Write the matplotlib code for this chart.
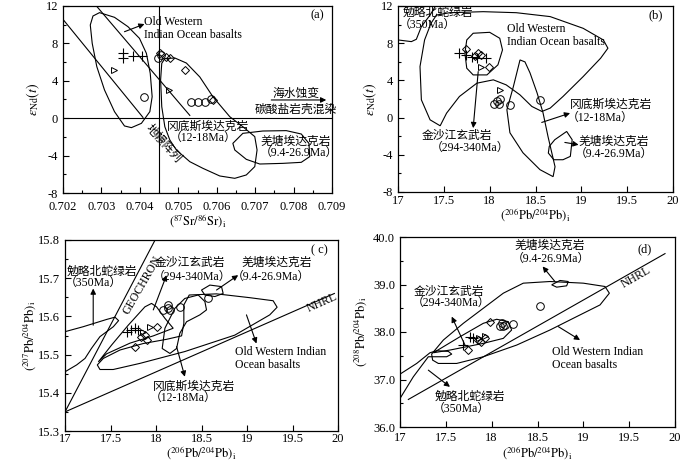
import numpy as np
import matplotlib
matplotlib.use("Agg")
import matplotlib.pyplot as plt
from matplotlib.ticker import MultipleLocator, FormatStrFormatter, FuncFormatter

plt.rcParams["font.family"] = ["Liberation Serif", "Noto Sans CJK SC"]
plt.rcParams["mathtext.fontset"] = "stix"
plt.rcParams["font.size"] = 9

# ---------------- panel (a): eNd(t) vs (87Sr/86Sr)i ----------------
a_owiob_x = [0.70295, 0.70278, 0.70271, 0.70276, 0.70288, 0.70308, 0.70334, 0.70360, 0.70378,
             0.70404, 0.70426, 0.70432, 0.70427, 0.70417, 0.70399, 0.70369, 0.70334]
a_owiob_y = [11.29, 10.93, 9.97, 8.01, 5.51, 3.02, 0.70, -0.83, -1.01,
             -0.55, 0.70, 2.30, 4.80, 6.94, 8.54, 9.79, 10.79]
a_gds_x = [0.70465, 0.70457, 0.70454, 0.70457, 0.70465, 0.70478, 0.70495, 0.70530, 0.70564, 0.70608,
           0.70647, 0.70677, 0.70699, 0.70705, 0.70699, 0.70668, 0.70634, 0.70590, 0.70556, 0.70521, 0.70491]
a_gds_y = [6.37, 5.87, 4.09, 1.23, -0.91, -2.33, -3.40, -4.65, -5.36, -6.18,
           -6.43, -6.07, -5.18, -3.40, -1.97, -0.91, 0.16, 2.30, 4.41, 5.90, 6.44]
a_qt_x = [0.70642, 0.70668, 0.70720, 0.70781, 0.70820, 0.70840, 0.70842, 0.70820, 0.70772, 0.70712, 0.70677, 0.70647]
a_qt_y = [-2.69, -1.62, -1.37, -1.33, -1.69, -2.69, -4.11, -4.72, -4.83, -4.90, -4.40, -3.40]
a_mantle1_x = [0.702, 0.70408]
a_mantle1_y = [10.57, 0.09]
a_mantle2_x = [0.70287, 0.7053]
a_mantle2_y = [12.0, 0.3]

a_cross_x = [0.70357, 0.70357, 0.70383, 0.70405]
a_cross_y = [6.95, 6.40, 6.60, 6.60]
a_diam_x = [0.70452, 0.70469, 0.70478, 0.70517, 0.70590]
a_diam_y = [6.94, 6.58, 6.40, 5.16, 1.95]
a_circ_x = [0.70447, 0.70456, 0.70412, 0.70534, 0.70551, 0.70569, 0.70586]
a_circ_y = [6.44, 6.76, 2.30, 1.77, 1.70, 1.77, 2.05]
a_tri_x = [0.70334, 0.70475]
a_tri_y = [5.16, 3.00]

# ---------------- panel (b): eNd(t) vs (206Pb/204Pb)i ----------------
b_ml_x = [17.0, 17.146, 17.2, 17.255, 17.35, 17.41]
b_ml_y = [8.35, 8.17, 8.42, 9.78, 11.03, 12.0]
b_owiob_x = [17.42, 17.565, 17.93, 18.29, 18.66, 19.02, 19.24, 19.29, 19.21, 19.02, 18.80, 18.66, 18.57,
             18.46, 18.33, 18.18, 18.04, 17.86, 17.67, 17.53, 17.46, 17.35, 17.255, 17.24, 17.29, 17.36]
b_owiob_y = [11.03, 11.28, 11.39, 11.28, 10.86, 9.60, 8.35, 7.46, 6.38, 4.41, 2.27, 1.02, 0.66,
             1.20, 2.45, 3.52, 4.06, 3.70, 2.27, 0.48, -0.88, -0.24, 1.91, 5.49, 8.35, 10.14]
b_jsj_x = [17.82, 18.0, 18.11, 18.14, 18.09, 17.97, 17.82, 17.75, 17.73, 17.75]
b_jsj_y = [9.07, 9.17, 8.53, 7.28, 5.67, 4.59, 4.59, 5.31, 6.92, 8.35]
b_gds_x = [18.331, 18.258, 18.188, 18.221, 18.363, 18.549, 18.692, 18.713, 18.637, 18.582, 18.517, 18.44, 18.385]
b_gds_y = [6.20, 3.31, 0.84, -1.63, -3.78, -5.60, -6.35, -5.28, -2.06, 0.52, 2.66, 4.81, 5.99]
b_qt_x = [18.65, 18.71, 18.84, 18.90, 18.88, 18.80, 18.70, 18.64]
b_qt_y = [-3.10, -2.38, -1.49, -2.38, -4.17, -4.53, -4.53, -3.81]

b_cross_x = [17.67, 17.74, 17.81, 17.86, 17.96]
b_cross_y = [6.90, 6.75, 6.55, 6.45, 6.40]
b_diam_x = [17.74, 17.87, 17.84, 17.90, 17.99]
b_diam_y = [7.35, 7.00, 6.60, 6.75, 5.45]
b_circ_x = [18.05, 18.08, 18.11, 18.10, 18.22, 18.55]
b_circ_y = [1.50, 1.75, 2.00, 1.45, 1.40, 1.90]
b_tri_x = [17.90, 18.11]
b_tri_y = [5.45, 3.00]

# ---------------- panel (c): (207Pb/204Pb)i vs (206Pb/204Pb)i ----------------
c_geochron_x = [17.0, 17.99]
c_geochron_y = [15.35, 15.80]
c_nhrl_x = [17.0, 19.96]
c_nhrl_y = [15.35, 15.66]
c_ml_x = [17.0, 17.2, 17.457, 17.549, 17.589, 17.531, 17.384, 17.29, 17.22, 17.128, 17.0]
c_ml_y = [15.56, 15.573, 15.592, 15.598, 15.589, 15.573, 15.547, 15.516, 15.49, 15.473, 15.455]
c_jsj_x = [17.366, 17.512, 17.695, 17.878, 17.951, 18.006, 18.098, 18.189, 17.97, 17.714, 17.457]
c_jsj_y = [15.481, 15.525, 15.577, 15.625, 15.634, 15.625, 15.595, 15.569, 15.549, 15.53, 15.502]
c_gds_x = [18.207, 18.317, 18.464, 18.537, 18.555, 18.482, 18.336, 18.262, 18.226, 18.153, 18.068, 18.098]
c_gds_y = [15.621, 15.647, 15.656, 15.639, 15.617, 15.604, 15.586, 15.556, 15.516, 15.503, 15.516, 15.569]
c_owiob_x = [17.355, 17.421, 17.604, 17.86, 18.116, 18.281, 18.306, 18.306, 18.365, 18.665, 19.031,
             19.287, 19.331, 19.25, 18.866, 18.317, 17.823, 17.53, 17.384]
c_owiob_y = [15.473, 15.49, 15.512, 15.529, 15.54, 15.549, 15.582, 15.63, 15.656, 15.659, 15.649,
             15.641, 15.624, 15.604, 15.551, 15.508, 15.477, 15.461, 15.461]
c_qt_x = [18.50, 18.592, 18.72, 18.738, 18.647, 18.537]
c_qt_y = [15.669, 15.682, 15.678, 15.66, 15.652, 15.656]

c_cross_x = [17.677, 17.73, 17.768, 17.80]
c_cross_y = [15.560, 15.564, 15.569, 15.564]
c_diam_x = [17.768, 18.006, 17.896, 17.878, 17.84]
c_diam_y = [15.521, 15.573, 15.538, 15.551, 15.547]
c_circ_x = [18.134, 18.134, 18.152, 18.08, 18.262, 18.573]
c_circ_y = [15.621, 15.630, 15.617, 15.617, 15.625, 15.647]
c_tri_x = [17.933, 17.86]
c_tri_y = [15.573, 15.560]

# ---------------- panel (d): (208Pb/204Pb)i vs (206Pb/204Pb)i ----------------
d_nhrl_x = [17.091, 19.891]
d_nhrl_y = [36.58, 39.65]
d_ml_x = [17.0, 17.182, 17.327, 17.40, 17.527, 17.564, 17.509, 17.382, 17.309, 17.145, 17.0]
d_ml_y = [37.113, 37.338, 37.563, 37.606, 37.592, 37.535, 37.479, 37.479, 37.479, 37.056, 36.60]
d_owiob_x = [17.345, 17.473, 17.691, 17.909, 18.127, 18.345, 18.636, 19.0, 19.236, 19.284, 19.182,
             18.927, 18.636, 18.273, 17.909, 17.618, 17.418, 17.356]
d_owiob_y = [37.535, 37.831, 38.183, 38.50, 38.817, 39.028, 39.063, 39.028, 38.958, 38.817, 38.57,
             38.324, 38.042, 37.725, 37.479, 37.338, 37.338, 37.408]
d_jsj_x = [17.364, 17.655, 17.909, 18.055, 18.182, 18.218, 18.127, 17.909, 17.545]
d_jsj_y = [37.563, 37.901, 38.183, 38.268, 38.218, 38.042, 37.866, 37.761, 37.62]
d_qt_x = [18.655, 18.745, 18.836, 18.818, 18.709]
d_qt_y = [38.993, 39.085, 39.063, 38.972, 38.944]

d_cross_x = [17.764, 17.69, 17.80]
d_cross_y = [37.90, 37.73, 37.88]
d_diam_x = [17.98, 17.745, 17.855, 17.93, 17.88]
d_diam_y = [38.22, 37.62, 37.83, 37.88, 37.78]
d_circ_x = [18.11, 18.127, 18.14, 18.09, 18.236, 18.527]
d_circ_y = [38.18, 38.13, 38.15, 38.12, 38.16, 38.54]
d_tri_x = [17.86, 17.93]
d_tri_y = [37.87, 37.91]

W, H = 700, 462
LW = 0.8
CN = ["Liberation Serif", "Noto Sans CJK SC"]
FS = 8.5


def box(left, right, top, bottom):
    return [left / W, 1 - bottom / H, (right - left) / W, (bottom - top) / H]


def field(ax, xs, ys, closed=True):
    if closed:
        ax.fill(xs, ys, fill=False, ec="k", lw=LW)
    else:
        ax.plot(xs, ys, color="k", lw=LW)


def arrow(ax, tail, head):
    ax.annotate("", xy=head, xytext=tail,
                arrowprops=dict(arrowstyle="-|>", color="k", lw=0.8,
                                mutation_scale=8, shrinkA=0, shrinkB=0))


def cn(ax, x, y, s, **kw):
    kw.setdefault("ha", "center")
    ax.text(x, y, s, family=CN, fontsize=FS, va="center", fontweight="light", **kw)


def samples(ax, cx, cy, dx, dy, ox, oy, tx, ty):
    ax.plot(tx, ty, ">", ms=5, mfc="none", mec="k", mew=0.7, ls="none", zorder=4)
    ax.plot(dx, dy, "D", ms=4, mfc="none", mec="k", mew=0.7, ls="none", zorder=4)
    ax.plot(ox, oy, "o", ms=5.5, mfc="none", mec="k", mew=0.7, ls="none", zorder=4)
    ax.plot(cx, cy, "+", ms=7, mec="k", mew=0.8, ls="none", zorder=4)


def style(ax, xlim, ylim, xmaj, ymaj, yminor, xfmt, yfmt, xpad, xminor=None):
    ax.set_xlim(*xlim)
    ax.set_ylim(*ylim)
    ax.xaxis.set_major_locator(MultipleLocator(xmaj))
    ax.yaxis.set_major_locator(MultipleLocator(ymaj))
    ax.yaxis.set_minor_locator(MultipleLocator(yminor))
    if xminor:
        ax.xaxis.set_minor_locator(MultipleLocator(xminor))
    ax.xaxis.set_major_formatter(xfmt)
    ax.yaxis.set_major_formatter(yfmt)
    ax.tick_params(which="both", direction="in", top=False, right=False, labelsize=9, width=0.8)
    ax.tick_params(which="major", length=4)
    ax.tick_params(axis="x", which="major", pad=xpad)
    ax.tick_params(which="minor", length=2)
    for s in ax.spines.values():
        s.set_linewidth(0.9)


def labels(ax, xl, yl, xpos, ypos, ysize=9):
    ax.set_xlabel(xl, fontsize=9, va="center")
    ax.set_ylabel(yl, fontsize=ysize, va="center")
    ax.xaxis.set_label_coords(0.5, xpos)
    ax.yaxis.set_label_coords(ypos, 0.5)


gfmt = FuncFormatter(lambda v, p: "%g" % round(v, 3))
PB6 = r"$(^{206}\mathrm{Pb}/^{204}\mathrm{Pb})_\mathrm{i}$"
END = r"$\varepsilon_\mathrm{Nd}(t)$"

fig = plt.figure(figsize=(7, 4.62), dpi=100)

# ---- (a)
ax = fig.add_axes(box(63, 332, 6, 193))
style(ax, (0.702, 0.709), (-8, 12), 0.001, 4, 2, FormatStrFormatter("%.3f"), gfmt, 6, xminor=0.0005)
ax.axvline(0.7045, color="k", lw=LW)
ax.axhline(0, color="k", lw=LW)
field(ax, a_owiob_x, a_owiob_y)
field(ax, a_gds_x, a_gds_y)
field(ax, a_qt_x, a_qt_y)
field(ax, a_mantle1_x, a_mantle1_y, closed=False)
field(ax, a_mantle2_x, a_mantle2_y, closed=False)
samples(ax, a_cross_x, a_cross_y, a_diam_x, a_diam_y, a_circ_x, a_circ_y, a_tri_x, a_tri_y)
ax.text(0.70412, 10.3, "Old Western", fontsize=FS, va="center")
ax.text(0.70412, 8.9, "Indian Ocean basalts", fontsize=FS, va="center")
arrow(ax, (0.70360, 9.25), (0.70412, 10.07))
cn(ax, 0.70806, 2.6, "海水蚀变")
arrow(ax, (0.70742, 1.95), (0.70885, 1.95))
cn(ax, 0.70807, 0.85, "碳酸盐岩壳混染")
cn(ax, 0.70577, -0.9, "冈底斯埃达克岩")
cn(ax, 0.70564, -2.05, "（12-18Ma）")
cn(ax, 0.70805, -2.5, "羌塘埃达克岩")
cn(ax, 0.70814, -3.75, "（9.4-26.9Ma）")
cn(ax, 0.70460, -2.7, "地幔阵列", rotation=-48)
ax.text(0.70863, 11.0, "(a)", fontsize=9, ha="center", va="center")
labels(ax, r"$(^{87}\mathrm{Sr}/^{86}\mathrm{Sr})_\mathrm{i}$", END, -0.15, -0.112, ysize=10)

# ---- (b)
ax = fig.add_axes(box(398, 673, 6, 192))
style(ax, (17, 20), (-8, 12), 0.5, 4, 2, gfmt, gfmt, 2.5)
field(ax, b_ml_x, b_ml_y, closed=False)
field(ax, b_owiob_x, b_owiob_y)
field(ax, b_jsj_x, b_jsj_y)
field(ax, b_gds_x, b_gds_y)
field(ax, b_qt_x, b_qt_y)
samples(ax, b_cross_x, b_cross_y, b_diam_x, b_diam_y, b_circ_x, b_circ_y, b_tri_x, b_tri_y)
cn(ax, 17.05, 11.3, "勉略北蛇绿岩", ha="left")
cn(ax, 17.317, 9.96, "（350Ma）")
ax.text(18.185, 9.5, "Old Western", fontsize=FS, va="center")
ax.text(18.185, 8.17, "Indian Ocean basalts", fontsize=FS, va="center")
arrow(ax, (17.875, 4.95), (17.82, -1.13))
cn(ax, 17.645, -2.0, "金沙江玄武岩")
cn(ax, 17.784, -3.28, "（294-340Ma）")
arrow(ax, (18.568, -0.52), (18.877, 0.48))
cn(ax, 18.877, 1.37, "冈底斯埃达克岩", ha="left")
cn(ax, 18.84, -0.06, "（12-18Ma）", ha="left")
arrow(ax, (18.82, -2.67), (18.97, -2.92))
cn(ax, 18.97, -2.56, "羌塘埃达克岩", ha="left")
cn(ax, 18.93, -3.89, "（9.4-26.9Ma）", ha="left")
ax.text(19.81, 11.0, "(b)", fontsize=9, ha="center", va="center")
labels(ax, PB6, END, -0.127, -0.102, ysize=10)

# ---- (c)
ax = fig.add_axes(box(65, 338, 240, 431))
style(ax, (17, 20), (15.3, 15.8), 0.5, 0.1, 0.05, gfmt, FormatStrFormatter("%.1f"), 1.5)
field(ax, c_geochron_x, c_geochron_y, closed=False)
field(ax, c_nhrl_x, c_nhrl_y, closed=False)
field(ax, c_ml_x, c_ml_y, closed=False)
field(ax, c_jsj_x, c_jsj_y)
field(ax, c_gds_x, c_gds_y)
field(ax, c_owiob_x, c_owiob_y)
field(ax, c_qt_x, c_qt_y)
samples(ax, c_cross_x, c_cross_y, c_diam_x, c_diam_y, c_circ_x, c_circ_y, c_tri_x, c_tri_y)
ax.text(17.85, 15.682, "GEOCHRON", fontsize=FS, ha="center", va="center", rotation=60)
ax.text(19.83, 15.635, "NHRL", fontsize=FS, ha="center", va="center", rotation=24)
arrow(ax, (17.31, 15.577), (17.31, 15.673))
cn(ax, 17.41, 15.717, "勉略北蛇绿岩")
cn(ax, 17.31, 15.687, "（350Ma）")
arrow(ax, (17.97, 15.617), (18.116, 15.708))
cn(ax, 18.372, 15.739, "金沙江玄武岩")
cn(ax, 18.40, 15.704, "（294-340Ma）")
arrow(ax, (18.665, 15.669), (18.903, 15.708))
cn(ax, 19.323, 15.739, "羌塘埃达克岩")
cn(ax, 19.258, 15.704, "（9.4-26.9Ma）")
arrow(ax, (18.226, 15.521), (18.317, 15.442))
cn(ax, 18.416, 15.416, "冈底斯埃达克岩")
cn(ax, 18.30, 15.386, "（12-18Ma）")
arrow(ax, (18.994, 15.604), (19.104, 15.529))
ax.text(18.866, 15.508, "Old Western Indian", fontsize=FS, va="center")
ax.text(18.866, 15.473, "Ocean basalts", fontsize=FS, va="center")
ax.text(19.80, 15.774, "( c)", fontsize=9, ha="center", va="center")
labels(ax, PB6, r"$(^{207}\mathrm{Pb}/^{204}\mathrm{Pb})_\mathrm{i}$", -0.115, -0.128)

# ---- (d)
ax = fig.add_axes(box(400, 675, 237, 427))
style(ax, (17, 20), (36, 40), 0.5, 1, 0.5, gfmt, FormatStrFormatter("%.1f"), 3.5)
field(ax, d_nhrl_x, d_nhrl_y, closed=False)
field(ax, d_ml_x, d_ml_y, closed=False)
field(ax, d_owiob_x, d_owiob_y)
field(ax, d_jsj_x, d_jsj_y)
field(ax, d_qt_x, d_qt_y)
samples(ax, d_cross_x, d_cross_y, d_diam_x, d_diam_y, d_circ_x, d_circ_y, d_tri_x, d_tri_y)
ax.text(19.58, 39.15, "NHRL", fontsize=FS, ha="center", va="center", rotation=30)
arrow(ax, (18.69, 39.063), (18.556, 39.38))
cn(ax, 18.636, 39.817, "羌塘埃达克岩")
cn(ax, 18.644, 39.535, "（9.4-26.9Ma）")
arrow(ax, (17.709, 37.725), (17.564, 38.324))
cn(ax, 17.535, 38.852, "金沙江玄武岩")
cn(ax, 17.553, 38.606, "（294-340Ma）")
arrow(ax, (17.309, 37.197), (17.545, 36.845))
cn(ax, 17.764, 36.634, "勉略北蛇绿岩")
cn(ax, 17.673, 36.373, "（350Ma）")
arrow(ax, (18.727, 38.113), (18.964, 37.831))
ax.text(18.655, 37.585, "Old Western Indian", fontsize=FS, va="center")
ax.text(18.655, 37.303, "Ocean basalts", fontsize=FS, va="center")
ax.text(19.673, 39.732, "(d)", fontsize=9, ha="center", va="center")
labels(ax, PB6, r"$(^{208}\mathrm{Pb}/^{204}\mathrm{Pb})_\mathrm{i}$", -0.14, -0.142)

fig.savefig("out.png", dpi=100)
